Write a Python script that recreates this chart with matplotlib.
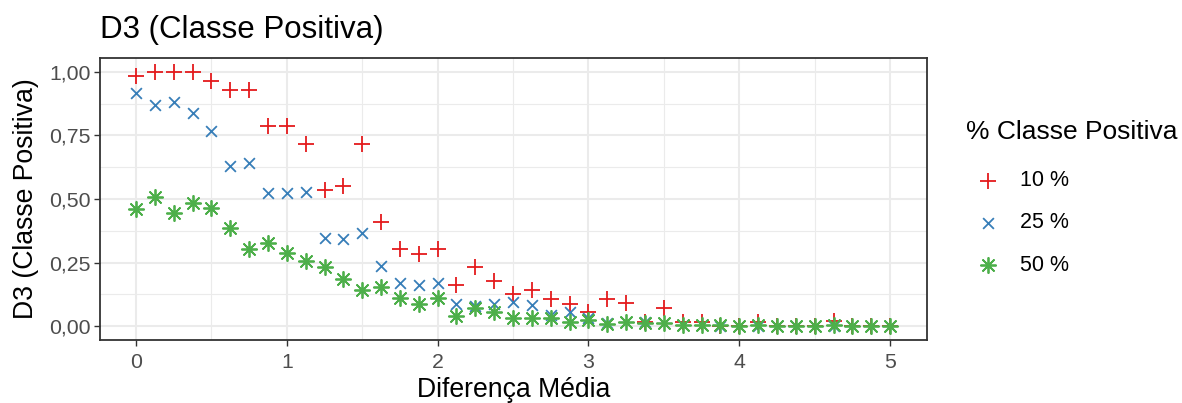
import matplotlib.pyplot as plt
import numpy as np
from matplotlib.ticker import MultipleLocator, FuncFormatter

plt.rcParams['font.family'] = ['Liberation Sans', 'DejaVu Sans']

# diferença média (x) e D3 para cada % de classe positiva
dif_media = np.arange(41) * 0.125

d3_10 = [0.984, 1.0, 1.0, 1.0, 0.965, 0.93, 0.93, 0.787, 0.787, 0.716,
         0.537, 0.552, 0.716, 0.41, 0.303, 0.283, 0.303, 0.161, 0.232, 0.177,
         0.126, 0.142, 0.106, 0.088, 0.055, 0.106, 0.09, 0.017, 0.07, 0.017,
         0.017, 0.0, 0.0, 0.017, 0.0, 0.0, 0.0, 0.02, 0.0, 0.0, 0.0]
d3_25 = [0.918, 0.87, 0.88, 0.84, 0.768, 0.63, 0.64, 0.522, 0.522, 0.529,
         0.345, 0.341, 0.365, 0.237, 0.17, 0.161, 0.17, 0.088, 0.08, 0.088,
         0.096, 0.083, 0.043, 0.054, 0.031, 0.012, 0.017, 0.017, 0.01, 0.004,
         0.004, 0.002, 0.001, 0.002, 0.001, 0.001, 0.001, 0.002, 0.0, 0.0, 0.0]
d3_50 = [0.461, 0.509, 0.443, 0.483, 0.463, 0.385, 0.303, 0.328, 0.289, 0.257,
         0.231, 0.184, 0.142, 0.155, 0.111, 0.085, 0.109, 0.039, 0.07, 0.054,
         0.03, 0.03, 0.03, 0.015, 0.024, 0.008, 0.015, 0.01, 0.01, 0.006,
         0.005, 0.003, 0.002, 0.003, 0.002, 0.001, 0.001, 0.003, 0.001, 0.0, 0.0]

labels = ['10 %', '25 %', '50 %']
cores = ['#E41A1C', '#377EB8', '#4DAF4A']

fig = plt.figure(figsize=(11.82, 4.03), dpi=100)
ax = fig.add_axes([100 / 1182, 1 - 340 / 403, 827 / 1182, 282 / 403])

h1 = ax.scatter(dif_media, d3_10, marker='+', s=125, c=cores[0], linewidths=1.3, label=labels[0], zorder=3)
h2 = ax.scatter(dif_media, d3_25, marker='x', s=60, c=cores[1], linewidths=1.3, label=labels[1], zorder=3)
h3 = ax.scatter(dif_media, d3_50, marker=(8, 2, 0), s=120, c=cores[2], linewidths=1.3, label=labels[2], zorder=3)

ax.set_xlim(-0.239, 5.245)
ax.set_ylim(-0.055, 1.055)
ax.xaxis.set_major_locator(MultipleLocator(1))
ax.xaxis.set_minor_locator(MultipleLocator(0.5))
ax.yaxis.set_major_locator(MultipleLocator(0.25))
ax.yaxis.set_minor_locator(MultipleLocator(0.125))
ax.yaxis.set_major_formatter(FuncFormatter(lambda v, p: f'{v:.2f}'.replace('.', ',')))
ax.grid(which='major', color='#EBEBEB', linewidth=1.5)
ax.grid(which='minor', color='#EBEBEB', linewidth=0.8)
ax.set_axisbelow(True)
ax.tick_params(which='minor', length=0)
ax.tick_params(which='major', length=4, width=1, color='#333333',
               labelcolor='#4D4D4D', labelsize=15.3, pad=3)
ax.tick_params(axis='x', pad=5)
for s in ax.spines.values():
    s.set_color('#333333')
    s.set_linewidth(1.3)

ax.set_xlabel('Diferença Média', fontsize=19.2, labelpad=4)
ax.set_ylabel('D3 (Classe Positiva)', fontsize=19.2, labelpad=7)
fig.text(100 / 1182, 1 - 30 / 403, 'D3 (Classe Positiva)', fontsize=22.5, va='center', ha='left')

leg = ax.legend(handles=[h1, h2, h3], title='% Classe Positiva', loc='upper left',
                bbox_to_anchor=(966 / 1182, 1 - 120 / 403), bbox_transform=fig.transFigure,
                frameon=False, fontsize=15.5, title_fontsize=19,
                labelspacing=0.98, handlelength=2.0, handletextpad=0.5, borderaxespad=0,
                borderpad=0)
leg._legend_box.align = 'left'
leg._legend_box.sep = 19

fig.savefig('out.png', dpi=100)
